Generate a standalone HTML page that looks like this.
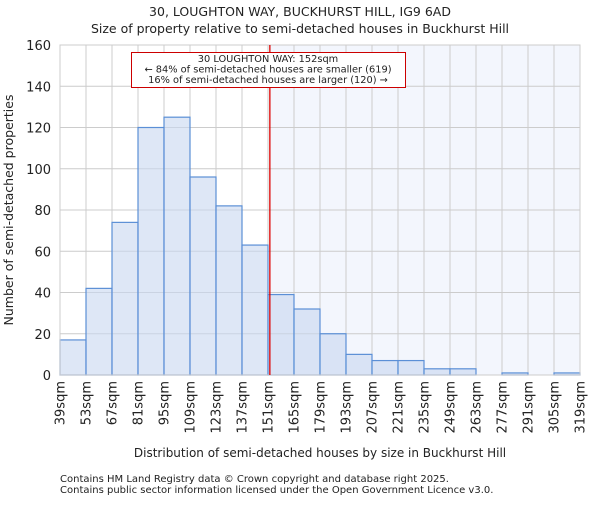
<!DOCTYPE html>
<html><head><meta charset="utf-8"><style>body{margin:0;background:#fff}svg text{font-family:"DejaVu Sans","Liberation Sans",sans-serif;fill:#222}</style></head>
<body>
<svg id="chart" width="600" height="500" xmlns="http://www.w3.org/2000/svg">
<text x="300" y="16" text-anchor="middle" font-size="12.5">30, LOUGHTON WAY, BUCKHURST HILL, IG9 6AD</text>
<text x="300" y="33" text-anchor="middle" font-size="12.5">Size of property relative to semi-detached houses in Buckhurst Hill</text>
<g id="plot"></g>
<text x="320" y="457" text-anchor="middle" font-size="12">Distribution of semi-detached houses by size in Buckhurst Hill</text>
<text transform="translate(13,210) rotate(-90)" text-anchor="middle" font-size="12.5">Number of semi-detached properties</text>
<text x="60" y="482" font-size="10" fill="#555">Contains HM Land Registry data © Crown copyright and database right 2025.</text>
<text x="60" y="493" font-size="10" fill="#555">Contains public sector information licensed under the Open Government Licence v3.0.</text>
</svg>
<script>
const binEdges=[39,53,67,81,95,109,123,137,151,165,179,193,207,221,235,249,263,277,291,305,319];
const counts=[17,42,74,120,125,96,82,63,39,32,20,10,7,7,3,3,0,1,0,1];
const yTicks=[0,20,40,60,80,100,120,140,160];
const propertySize=152;
const annotationLines=["30 LOUGHTON WAY: 152sqm","← 84% of semi-detached houses are smaller (619)","16% of semi-detached houses are larger (120) →"];
const X0=60,X1=580,Y0=375,Y1=45;
const xs=v=>X0+(v-39)/(319-39)*(X1-X0);
const ys=v=>Y0-v/160*(Y0-Y1);
const NS="http://www.w3.org/2000/svg";
const g=document.getElementById('plot');
function mk(t,a,parent){const e=document.createElementNS(NS,t);for(const k in a)e.setAttribute(k,a[k]);(parent||g).appendChild(e);return e;}
const px=xs(propertySize);
const sh=mk('rect',{x:px,y:Y1,width:X1-px,height:Y0-Y1,fill:'#f3f6fd'});


yTicks.forEach(t=>{
 const l=mk('line',{x1:X0,x2:X1,y1:ys(t),y2:ys(t),stroke:'#ccc','stroke-width':1});
 
 
 const tx=mk('text',{x:X0-9,y:ys(t)+5,'text-anchor':'end','font-size':13});
 tx.textContent=t;
 
 
});
binEdges.forEach(b=>{
 const l=mk('line',{x1:xs(b),x2:xs(b),y1:Y1,y2:Y0,stroke:'#ccc','stroke-width':1});
 
 
 const tx=mk('text',{transform:`translate(${xs(b)+4.5},381) rotate(-90)`,'text-anchor':'end','font-size':13});
 tx.textContent=b+'sqm';
 
 
});
counts.forEach((c,i)=>{
 if(c<=0)return;
 const r=mk('rect',{x:xs(binEdges[i]),y:ys(c),width:xs(binEdges[i+1])-xs(binEdges[i]),height:Y0-ys(c),fill:'rgba(200,215,240,0.6)',stroke:'#5b8fd6','stroke-width':1.2});
 
 
});
const fr=mk('rect',{x:X0,y:Y1,width:X1-X0,height:Y0-Y1,fill:'none',stroke:'#ccc','stroke-width':1});


const rl=mk('line',{x1:px,x2:px,y1:Y1,y2:Y0,stroke:'#d00','stroke-width':1.3});


const ab=mk('rect',{x:131.5,y:52.5,width:274,height:35,fill:'#fff',stroke:'#c00','stroke-width':1});


annotationLines.forEach((s,i)=>{
 const t=mk('text',{x:268,y:62+i*10.5,'text-anchor':'middle','font-size':9.8});
 t.textContent=s;
 
 
});
</script>
</body></html>
